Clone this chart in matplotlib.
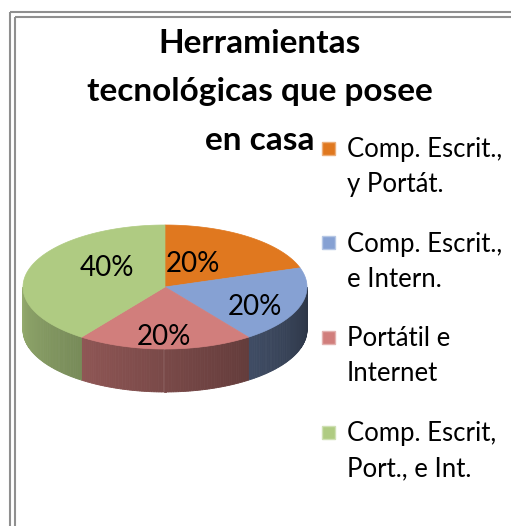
"""Gráfico de torta 3D: herramientas tecnológicas que posee en casa."""

import numpy as np
import matplotlib.pyplot as plt
from matplotlib.patches import Polygon, Rectangle
from matplotlib.colors import to_rgb

# Datos
categorias = [
    "Comp. Escrit.,\ny Portát.",
    "Comp. Escrit.,\ne Intern.",
    "Portátil e\nInternet",
    "Comp. Escrit,\nPort., e Int.",
]
porcentajes = [20, 20, 20, 40]
titulo = ["Herramientas", "tecnológicas que posee", "en casa"]

colores = ["#e0781f", "#86a1d3", "#d17e7c", "#afcb82"]

# Geometría (píxeles)
W, H = 511, 526
cx, cy = 165, 287
ra, rb = 142, 62
prof = 43
# posición de las etiquetas en fracciones de semiejes (x centro, y línea base)
pos_etiq = [(0.20, -0.24), (0.63, 0.45), (-0.01, 0.94), (-0.41, -0.18)]

FUENTE = "Lato"


def punto(theta, dy=0.0):
    """theta en grados, horario desde las 12."""
    t = np.radians(theta)
    return cx + ra * np.sin(t), cy - rb * np.cos(t) + dy


fig = plt.figure(figsize=(W / 100, H / 100), dpi=100)
ax = fig.add_axes([0, 0, 1, 1])
ax.set_xlim(0, W)
ax.set_ylim(H, 0)
ax.axis("off")

# Marco doble
for off in (9.5, 14.5):
    ax.plot([off, off], [off + 2.5, H + 5], color="#8f8f8f", lw=1.5, solid_capstyle="butt")
    ax.plot([off, W + 5], [off + 2.5, off + 2.5], color="#8f8f8f", lw=1.5, solid_capstyle="butt")

total = sum(porcentajes)
angulos = np.cumsum([0] + [p / total * 360 for p in porcentajes])

# Paredes laterales (solo la mitad frontal es visible)
for i, col in enumerate(colores):
    t0, t1 = max(angulos[i], 90), min(angulos[i + 1], 270)
    if t1 <= t0:
        continue
    base = np.array(to_rgb(col))
    pasos = np.linspace(t0, t1, int(t1 - t0) + 2)
    for a0, a1 in zip(pasos[:-1], pasos[1:]):
        f = 0.32 + 0.52 * ((a0 + a1) / 2 - 90) / 180
        c = np.clip(base * f, 0, 1)
        p0, p1 = punto(a0), punto(a1)
        q1, q0 = punto(a1, prof), punto(a0, prof)
        ax.add_patch(Polygon([p0, p1, q1, q0], closed=True, fc=c, ec=c, lw=0.6))

# Cara superior
for i, col in enumerate(colores):
    arco = np.linspace(angulos[i], angulos[i + 1], 120)
    verts = [(cx, cy)] + [punto(a) for a in arco]
    ax.add_patch(Polygon(verts, closed=True, fc=col, ec=col, lw=0.5))

# Etiquetas de porcentaje
for (fx, fy), p in zip(pos_etiq, porcentajes):
    ax.text(cx + fx * ra, cy + fy * rb, f"{p}%", ha="center", va="baseline",
            fontsize=20, family=FUENTE, color="black")

# Título
for k, linea in enumerate(titulo):
    ax.text(260, 53 + k * 48.5, linea, ha="center", va="baseline",
            fontsize=24, fontweight="bold", family=FUENTE, color="black")

# Leyenda
for i, (cat, col) in enumerate(zip(categorias, colores)):
    ym = 148 + i * 94.7
    claro = np.clip(np.array(to_rgb(col)) * 0.6 + 0.4, 0, 1)
    ax.add_patch(Rectangle((322, ym - 6.5), 13, 13, fc=col, ec=claro, lw=1))
    for j, linea in enumerate(cat.split("\n")):
        ax.text(347, ym + 9 + j * 35, linea, ha="left", va="baseline",
                fontsize=18.5, family=FUENTE, color="black")

fig.savefig("out.png", dpi=100, facecolor="white")
